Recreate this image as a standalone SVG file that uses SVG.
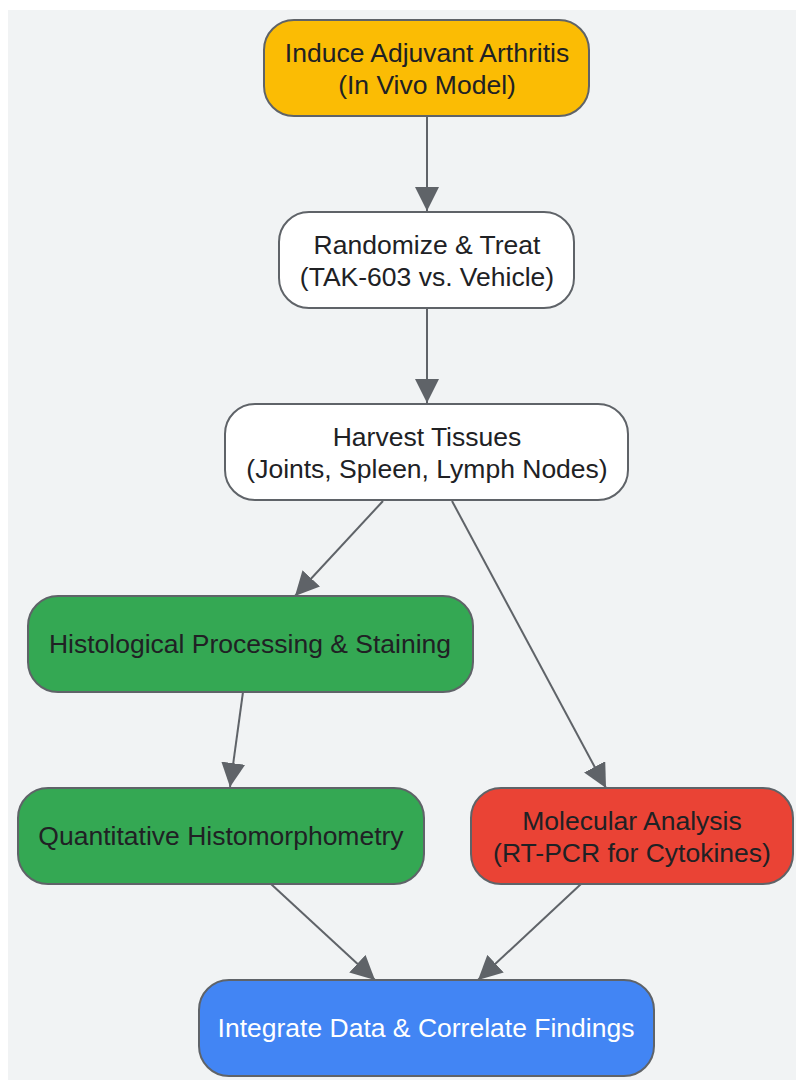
<svg xmlns="http://www.w3.org/2000/svg" width="796" height="1080" viewBox="0 0 796 1080">
<defs>
<marker id="ah" markerUnits="userSpaceOnUse" markerWidth="24" markerHeight="24" viewBox="0 0 24 24" refX="24" refY="12" orient="auto">
<path d="M0,0 L24,12 L0,24 z" fill="#5f6368"/>
</marker>
<style>
.n{stroke:#5f6368;stroke-width:2}
.t{font-family:"Liberation Sans",Arial,sans-serif;font-size:26.5px;fill:#202124;text-anchor:middle}
.e{stroke:#5f6368;stroke-width:2;fill:none;marker-end:url(#ah)}
</style>
</defs>
<rect x="8" y="10" width="788" height="1070" fill="#f1f3f4"/>
<g id="edges">
<line class="e" x1="427" y1="116" x2="427" y2="211"/>
<line class="e" x1="427" y1="308" x2="427" y2="403"/>
<line class="e" x1="383" y1="501" x2="295" y2="596"/>
<line class="e" x1="452" y1="501" x2="606" y2="788"/>
<line class="e" x1="243" y1="692" x2="230" y2="787"/>
<line class="e" x1="271" y1="884" x2="375" y2="980"/>
<line class="e" x1="581" y1="884" x2="478" y2="980"/>
</g>
<g id="n1">
<rect class="n" x="264" y="20" width="325" height="96" rx="30" fill="#fbbc04"/>
<text class="t" x="427" y="62">Induce Adjuvant Arthritis</text>
<text class="t" x="427" y="94">(In Vivo Model)</text>
</g>
<g id="n2">
<rect class="n" x="279" y="212" width="295" height="96" rx="30" fill="#ffffff"/>
<text class="t" x="427" y="254">Randomize &amp; Treat</text>
<text class="t" x="427" y="286">(TAK-603 vs. Vehicle)</text>
</g>
<g id="n3">
<rect class="n" x="225" y="404" width="403" height="96" rx="30" fill="#ffffff"/>
<text class="t" x="427" y="446">Harvest Tissues</text>
<text class="t" x="427" y="478">(Joints, Spleen, Lymph Nodes)</text>
</g>
<g id="n4">
<rect class="n" x="28" y="596" width="445" height="96" rx="30" fill="#34a853"/>
<text class="t" x="250" y="653">Histological Processing &amp; Staining</text>
</g>
<g id="n5">
<rect class="n" x="18" y="788" width="406" height="96" rx="30" fill="#34a853"/>
<text class="t" x="221" y="845">Quantitative Histomorphometry</text>
</g>
<g id="n6">
<rect class="n" x="471" y="788" width="322" height="96" rx="30" fill="#ea4335"/>
<text class="t" x="632" y="830">Molecular Analysis</text>
<text class="t" x="632" y="862">(RT-PCR for Cytokines)</text>
</g>
<g id="n7">
<rect class="n" x="199" y="980" width="455" height="96" rx="30" fill="#4285f4"/>
<text class="t" x="426" y="1037" style="fill:#ffffff">Integrate Data &amp; Correlate Findings</text>
</g>
</svg>
